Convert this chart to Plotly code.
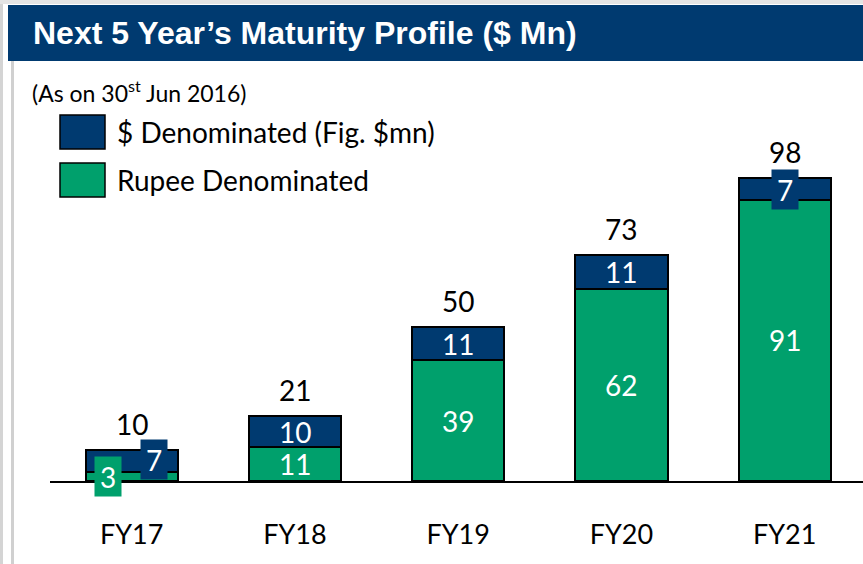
import plotly.graph_objects as go

categories = ["FY17", "FY18", "FY19", "FY20", "FY21"]
rupee_values = [3, 11, 39, 62, 91]
dollar_values = [7, 10, 11, 11, 7]
totals = [10, 21, 50, 73, 98]
series_names = ["$ Denominated (Fig. $mn)", "Rupee Denominated"]
title_text = "Next 5 Year\u2019s Maturity Profile ($ Mn)"
subtitle_text = "(As on 30<sup>st</sup> Jun 2016)"

NAVY = "#003A70"
GREEN = "#00A06C"
W, H = 863, 564
L, R, T, B = 50, 0, 100, 83
PW, PH = W - L - R, H - T - B


def xp(px):
    return (px - L) / PW


def yp(py):
    return (H - B - py) / PH


FONT = "Lato, Carlito, Calibri, 'Open Sans', sans-serif"
TFONT = "'Liberation Sans', Arial, sans-serif"

fig = go.Figure()
fig.add_trace(go.Bar(x=categories, y=rupee_values, name=series_names[1],
                     marker=dict(color=GREEN, line=dict(color="black", width=2)),
                     width=0.565, hoverinfo="skip"))
fig.add_trace(go.Bar(x=categories, y=dollar_values, name=series_names[0],
                     marker=dict(color=NAVY, line=dict(color="black", width=2)),
                     width=0.565, hoverinfo="skip"))

annotations = []
# totals above bars
for c, t in zip(categories, totals):
    annotations.append(dict(x=c, y=t, xref="x", yref="y", text=str(t), showarrow=False,
                            yanchor="middle", yshift=26,
                            font=dict(family=FONT, size=28, color="black")))

# segment labels
for i, c in enumerate(categories):
    r = rupee_values[i]
    d = dollar_values[i]
    small = r + d <= 10
    rk = dict(x=c, y=r / 2, xref="x", yref="y", text=str(r), showarrow=False,
              font=dict(family=FONT, size=28, color="white"))
    dk = dict(x=c, y=r + d / 2, xref="x", yref="y", text=str(d), showarrow=False,
              font=dict(family=FONT, size=28, color="white"))
    if small:
        rk.update(bgcolor=GREEN, xshift=-24, yshift=0, width=26, height=39, borderpad=0)
        dk.update(bgcolor=NAVY, xshift=22, yshift=1.5, width=26, height=39, borderpad=0)
    elif d / (r + d) < 0.1:
        dk.update(bgcolor=NAVY, width=26, height=39, borderpad=0)
    annotations.append(rk)
    annotations.append(dk)

# title & subtitle
annotations.append(dict(x=xp(31), y=yp(33), xref="paper", yref="paper", text="<b>" + title_text + "</b>",
                        showarrow=False, xanchor="left", yanchor="middle",
                        font=dict(family=TFONT, size=32, color="white")))
annotations.append(dict(x=xp(30), y=yp(91), xref="paper", yref="paper", text=subtitle_text,
                        showarrow=False, xanchor="left", yanchor="middle",
                        font=dict(family=FONT, size=23, color="black")))

# custom legend
legend_rows = [(series_names[0], NAVY, 115, 149), (series_names[1], GREEN, 163, 197)]
shapes = []
for name, col, y0, y1 in legend_rows:
    shapes.append(dict(type="rect", xref="paper", yref="paper", x0=xp(60), x1=xp(105),
                       y0=yp(y1), y1=yp(y0), fillcolor=col, line=dict(color="black", width=1.5)))
    annotations.append(dict(x=xp(115), y=yp((y0 + y1) / 2), xref="paper", yref="paper", text=name,
                            showarrow=False, xanchor="left", yanchor="middle",
                            font=dict(family=FONT, size=28, color="black")))

# title bar and page decorations
shapes.append(dict(type="rect", xref="paper", yref="paper", x0=xp(8), x1=xp(863), y0=yp(61), y1=yp(5),
                   fillcolor=NAVY, line=dict(width=0), layer="below"))
shapes.append(dict(type="rect", xref="paper", yref="paper", x0=xp(0), x1=xp(3), y0=yp(564), y1=yp(0),
                   fillcolor="#D4D4D4", line=dict(width=0)))
shapes.append(dict(type="rect", xref="paper", yref="paper", x0=xp(11), x1=xp(14), y0=yp(564), y1=yp(61),
                   fillcolor="#D0D0D0", line=dict(width=0)))
shapes.append(dict(type="rect", xref="paper", yref="paper", x0=xp(0), x1=xp(863), y0=yp(4), y1=yp(0),
                   fillcolor="#E4E4E4", line=dict(width=0)))

fig.update_layout(
    width=W, height=H,
    margin=dict(l=L, r=R, t=T, b=B),
    barmode="stack",
    showlegend=False,
    plot_bgcolor="white", paper_bgcolor="white",
    annotations=annotations,
    shapes=shapes,
    xaxis=dict(range=[-0.5, 4.48], showline=True, linecolor="black", linewidth=2,
               ticks="", showgrid=False, zeroline=False, ticklabelstandoff=29,
               tickfont=dict(family=FONT, size=27, color="black")),
    yaxis=dict(range=[0, PH / 3.09], visible=False, showgrid=False, zeroline=False),
)

fig.write_html("out.html", config={"displayModeBar": False},
               post_script="document.body.style.margin='0';")
